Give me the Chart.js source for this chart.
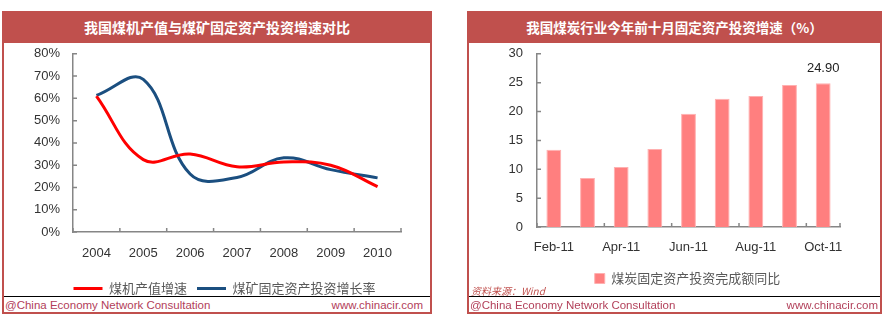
<!DOCTYPE html>
<html lang="zh">
<head>
<meta charset="UTF-8">
<title>煤炭投资</title>
<style>
  body { margin: 0; width: 886px; height: 324px; background: #fff; position: relative; overflow: hidden; }
  .panel { position: absolute; top: 11px; height: 303px; box-sizing: border-box; border: 2px solid #c0504d; border-top: none; }
  .head { position: absolute; left: -2px; right: -2px; top: 0; height: 32px; background: #c0504d; color: #fff;
          font: bold 14px "Noto Sans CJK SC", sans-serif; text-align: center; line-height: 32px; }
  .foot { position: absolute; left: 0; right: 0; top: 285px; border-top: 1px solid #000; height: 16px;
          font: 11.5px "Liberation Sans", Arial, sans-serif; color: #b2405a; line-height: 16px; }
  .foot .l { position: absolute; left: 1px; }
  .foot .r { position: absolute; right: 7px; }
  canvas { position: absolute; }
  .src { position: absolute; left: 2px; top: 272px; font: italic 10px "Noto Sans CJK SC", serif; color: #c0504d; }
</style>
</head>
<body>
  <div class="panel" style="left:2px;width:430px;">
    <div class="head">我国煤机产值与煤矿固定资产投资增速对比</div>
    <canvas id="lineChart" width="426" height="263" style="left:0;top:22px;"></canvas>
    <div class="foot"><span class="l">@China Economy Network Consultation</span><span class="r">www.chinacir.com</span></div>
  </div>
  <div class="panel" style="left:467px;width:415px;">
    <div class="head" style="font-size:13.5px;">我国煤炭行业今年前十月固定资产投资增速（%）</div>
    <canvas id="barChart" width="411" height="265" style="left:0;top:21px;"></canvas>
    <div class="src">资料来源：Wind</div>
    <div class="foot"><span class="l">@China Economy Network Consultation</span><span class="r" style="right:2px;">www.chinacir.com</span></div>
  </div>

  <script src="https://cdn.jsdelivr.net/npm/chart.js"></script>
  <script>
    // left chart: yearly growth, %
    const years = ["2004", "2005", "2006", "2007", "2008", "2009", "2010"];
    const machineOutput = [61, 32.5, 35, 29.3, 31.4, 30, 20.4];
    const mineInvestment = [61.3, 68.5, 26, 24.5, 33.3, 28, 24.3];
    const pctTicks = [0, 10, 20, 30, 40, 50, 60, 70, 80];

    // right chart: monthly cumulative investment growth, %
    const months = ["Feb-11", "Mar-11", "Apr-11", "May-11", "Jun-11", "Jul-11", "Aug-11", "Sep-11", "Oct-11"];
    const coalInvest = [13.4, 8.5, 10.4, 13.5, 19.6, 22.2, 22.7, 24.6, 24.9];
    const labelled = [8];

    const axisGrey = "#868686";
    const tickFont = { family: "'Liberation Sans', Arial", size: 13 };

    // excel-style tick marks pointing into the plot
    const innerTicks = {
      id: "innerTicks",
      afterDraw(chart, args, opts) {
        const ctx = chart.ctx, x = chart.scales.x, y = chart.scales.y;
        ctx.save();
        ctx.strokeStyle = axisGrey;
        ctx.lineWidth = 1.5;
        ctx.beginPath();
        y.ticks.forEach((t, i) => {
          const py = y.getPixelForTick(i);
          ctx.moveTo(x.left, py);
          ctx.lineTo(x.left + 4, py);
        });
        const n = x.ticks.length, step = (x.right - x.left) / n;
        for (let k = 0; k <= n; k++) {
          if (k % opts.every && k !== n) continue;
          const px = x.left + k * step;
          ctx.moveTo(px, y.bottom);
          ctx.lineTo(px, y.bottom - 4);
        }
        ctx.stroke();
        ctx.restore();
      }
    };

    // nudge the legend box, it is centred under the plot in the original
    const legendShift = {
      id: "legendShift",
      afterLayout(chart, args, opts) {
        const lg = chart.legend;
        lg.left += opts.dx; lg.right += opts.dx;
        lg.top += opts.dy; lg.bottom += opts.dy;
      }
    };

    const valueLabel = {
      id: "valueLabel",
      afterDatasetsDraw(chart, args, opts) {
        if (!opts.show) return;
        const ctx = chart.ctx, meta = chart.getDatasetMeta(0);
        ctx.save();
        ctx.font = "13px 'Liberation Sans', Arial";
        ctx.fillStyle = "#222";
        ctx.textAlign = "center";
        ctx.textBaseline = "middle";
        labelled.forEach(i => {
          const bar = meta.data[i];
          ctx.fillText(coalInvest[i].toFixed(2), bar.x, bar.y - 15);
        });
        ctx.restore();
      }
    };

    new Chart(document.getElementById("lineChart"), {
      type: "line",
      data: {
        labels: years,
        datasets: [
          { label: "煤机产值增速", data: machineOutput, borderColor: "#ff0000", backgroundColor: "#ff0000",
            borderWidth: 3, pointRadius: 0, tension: 0.4 },
          { label: "煤矿固定资产投资增长率", data: mineInvestment, borderColor: "#1b4f80", backgroundColor: "#1b4f80",
            borderWidth: 3, pointRadius: 0, tension: 0.4 }
        ]
      },
      options: {
        responsive: false,
        animation: false,
        layout: { padding: { top: 2, right: 29, left: 0, bottom: 0 } },
        scales: {
          x: {
            offset: true,
            grid: { display: false, drawTicks: false, offset: true },
            border: { color: axisGrey, width: 1.5 },
            ticks: { font: tickFont, color: "#333", padding: 14, maxRotation: 0 },
            afterFit: s => { s.height = 31; }
          },
          y: {
            min: 0, max: 80,
            afterBuildTicks: s => { s.ticks = pctTicks.map(v => ({ value: v })); },
            grid: { display: false, drawTicks: false },
            border: { color: axisGrey, width: 1.5 },
            ticks: { font: tickFont, color: "#333", padding: 13, callback: v => v + "%" },
            afterFit: s => { s.width = 69; }
          }
        },
        plugins: {
          legend: {
            position: "bottom",
            labels: { font: { family: "'Noto Sans CJK SC'", size: 13 }, color: "#595959", padding: 10,
                      usePointStyle: true, pointStyle: "line", pointStyleWidth: 29, boxHeight: 13 }
          },
          tooltip: { enabled: false },
          innerTicks: { every: 1 },
          legendShift: { dx: 22, dy: 9 }
        }
      },
      plugins: [innerTicks, legendShift]
    });

    new Chart(document.getElementById("barChart"), {
      type: "bar",
      data: {
        labels: months,
        datasets: [
          { label: "煤炭固定资产投资完成额同比", data: coalInvest, backgroundColor: "#ff7f7f",
            borderColor: "#ffb0b0", borderWidth: 1, borderSkipped: "bottom",
            barPercentage: 0.9, categoryPercentage: 0.49 }
        ]
      },
      options: {
        responsive: false,
        animation: false,
        layout: { padding: { top: 2, right: 40, left: 0, bottom: 0 } },
        scales: {
          x: {
            grid: { display: false, drawTicks: false },
            border: { color: axisGrey, width: 1.5 },
            ticks: { font: tickFont, color: "#333", padding: 13, maxRotation: 0, autoSkip: false,
                     callback: (v, i) => i % 2 ? "" : months[i] },
            afterFit: s => { s.height = 37; }
          },
          y: {
            min: 0, max: 30,
            ticks: { stepSize: 5, font: tickFont, color: "#333", padding: 14 },
            grid: { display: false, drawTicks: false },
            border: { color: axisGrey, width: 1.5 },
            afterFit: s => { s.width = 68; }
          }
        },
        plugins: {
          legend: {
            position: "bottom",
            labels: { font: { family: "'Noto Sans CJK SC'", size: 13 }, color: "#595959", padding: 10,
                      boxWidth: 10, boxHeight: 10 }
          },
          tooltip: { enabled: false },
          innerTicks: { every: 2 },
          legendShift: { dx: 33, dy: -2 },
          valueLabel: { show: true }
        }
      },
      plugins: [innerTicks, legendShift, valueLabel]
    });
  </script>
</body>
</html>
